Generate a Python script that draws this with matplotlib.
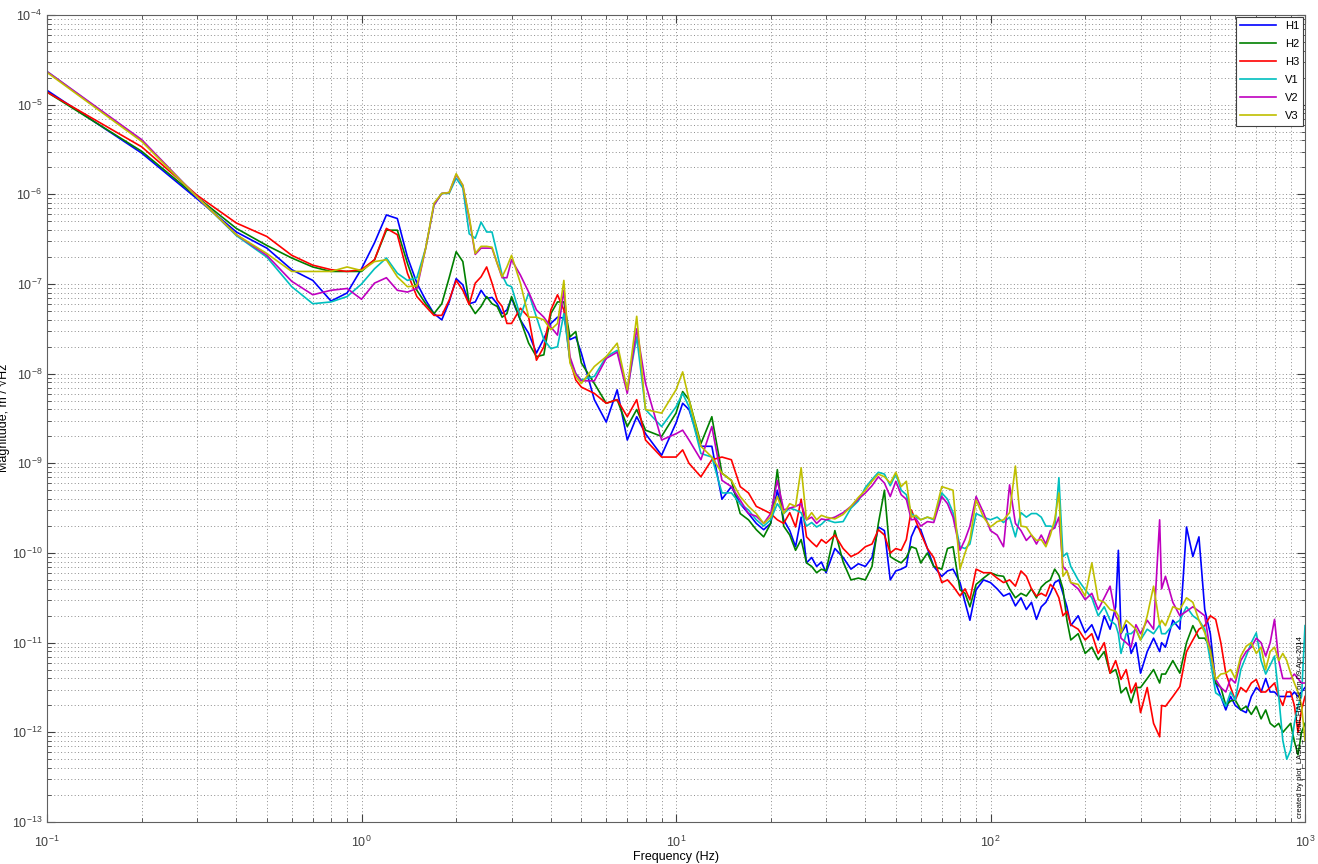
import numpy as np
import matplotlib
matplotlib.use("Agg")
import matplotlib.pyplot as plt

# frequency points (Hz)
freq = [0.1, 0.2, 0.3, 0.4, 0.5, 0.6, 0.7, 0.8, 0.9, 1.0,
        1.1, 1.2, 1.3, 1.4, 1.5, 1.6, 1.7, 1.8, 1.9, 2.0,
        2.1, 2.2, 2.3, 2.4, 2.5, 2.6, 2.7, 2.8, 2.9, 3.0,
        3.2, 3.4, 3.6, 3.8, 4.0, 4.2, 4.4, 4.6, 4.8, 5.0,
        5.5, 6.0, 6.5, 7.0, 7.5, 8.0, 9.0, 10, 10.5, 11,
        12, 13, 14, 15, 16, 17, 18, 19, 20,
        21, 22, 23, 24, 25, 26, 27, 28, 29, 30,
        32, 34, 36, 38, 40, 42, 44, 46, 48, 50,
        52, 54, 56, 58, 60, 63, 66, 70, 73, 76,
        80, 83, 86, 90, 95, 100, 105, 110, 115, 120,
        125, 130, 135, 140, 145, 150, 155, 160, 165, 170,
        175, 180, 190, 200, 210, 220, 230, 240, 250, 255,
        260, 270, 280, 290, 300, 315, 330, 345, 350, 360,
        380, 400, 420, 440, 460, 480, 500, 520, 540, 560,
        580, 600, 625, 650, 675, 700, 725, 750, 775, 800,
        825, 850, 875, 900, 925, 950, 975, 1000]

# log10 of the magnitude (m/rtHz) for each channel
h1 = [-4.84, -5.54, -6.05, -6.42, -6.60, -6.84, -6.96, -7.19, -7.10, -6.83,
      -6.54, -6.23, -6.27, -6.70, -6.99, -7.18, -7.33, -7.40, -7.20, -6.94,
      -7.01, -7.22, -7.20, -7.07, -7.16, -7.15, -7.22, -7.33, -7.29, -7.16,
      -7.40, -7.55, -7.77, -7.61, -7.44, -7.37, -7.38, -7.62, -7.59, -7.77,
      -8.29, -8.54, -8.18, -8.74, -8.48, -8.67, -8.91, -8.55, -8.33, -8.40,
      -8.81, -8.81, -9.40, -9.26, -9.45, -9.56, -9.67, -9.74, -9.67,
      -9.30, -9.63, -9.75, -9.93, -9.60, -10.11, -10.05, -10.15, -10.10, -10.22,
      -9.95, -10.05, -10.18, -10.12, -10.15, -10.05, -9.71, -9.75, -10.30, -10.20,
      -10.18, -10.15, -9.82, -9.70, -9.74, -9.95, -10.15, -10.26, -10.20, -10.18,
      -10.33, -10.55, -10.75, -10.41, -10.30, -10.33, -10.40, -10.48, -10.45, -10.59,
      -10.50, -10.63, -10.55, -10.74, -10.60, -10.55, -10.45, -10.33, -10.30, -10.45,
      -10.60, -10.81, -10.70, -10.89, -10.80, -10.97, -10.70, -10.85, -10.60, -9.97,
      -10.90, -10.80, -11.12, -11.00, -11.34, -11.10, -10.95, -11.10, -11.00, -11.05,
      -10.75, -10.85, -9.71, -10.04, -9.82, -10.63, -10.90, -11.45, -11.60, -11.75,
      -11.60, -11.70, -11.75, -11.78, -11.60, -11.50, -11.55, -11.40, -11.55, -11.55,
      -11.60, -11.60, -11.60, -11.60, -11.55, -11.60, -11.55, -11.50]
h2 = [-4.86, -5.52, -6.03, -6.38, -6.57, -6.71, -6.81, -6.86, -6.86, -6.86,
      -6.73, -6.40, -6.40, -6.77, -7.07, -7.22, -7.33, -7.22, -6.93, -6.64,
      -6.75, -7.22, -7.33, -7.25, -7.14, -7.22, -7.25, -7.37, -7.33, -7.14,
      -7.40, -7.66, -7.81, -7.79, -7.33, -7.20, -7.20, -7.59, -7.53, -7.88,
      -8.11, -8.33, -8.29, -8.59, -8.40, -8.63, -8.70, -8.44, -8.20, -8.29,
      -8.78, -8.48, -9.11, -9.19, -9.56, -9.63, -9.74, -9.82, -9.67,
      -9.07, -9.70, -9.80, -9.97, -9.85, -10.11, -10.15, -10.22, -10.18, -10.20,
      -9.75, -10.10, -10.30, -10.28, -10.30, -10.15, -9.67, -9.30, -10.04, -10.08,
      -10.11, -10.05, -9.93, -9.95, -10.11, -10.00, -10.15, -10.18, -9.95, -9.93,
      -10.41, -10.45, -10.60, -10.35, -10.28, -10.22, -10.25, -10.26, -10.40, -10.50,
      -10.45, -10.48, -10.40, -10.50, -10.38, -10.33, -10.30, -10.18, -10.25, -10.40,
      -10.75, -10.97, -10.90, -11.12, -11.05, -11.19, -11.10, -11.34, -11.30, -11.40,
      -11.56, -11.50, -11.67, -11.50, -11.50, -11.40, -11.30, -11.45, -11.35, -11.35,
      -11.20, -11.34, -11.00, -10.81, -10.95, -10.95, -11.05, -11.45, -11.50, -11.70,
      -11.65, -11.64, -11.75, -11.71, -11.80, -11.71, -11.85, -11.75, -11.90, -11.94,
      -11.90, -12.00, -11.95, -11.90, -12.10, -12.25, -12.00, -11.90]
h3 = [-4.86, -5.47, -6.01, -6.32, -6.47, -6.68, -6.79, -6.84, -6.86, -6.84,
      -6.73, -6.38, -6.45, -6.88, -7.14, -7.25, -7.35, -7.35, -7.18, -6.96,
      -7.07, -7.23, -6.99, -6.92, -6.81, -6.99, -7.18, -7.25, -7.44, -7.44,
      -7.27, -7.37, -7.85, -7.70, -7.29, -7.12, -7.29, -7.85, -8.07, -8.15,
      -8.22, -8.33, -8.29, -8.48, -8.29, -8.74, -8.93, -8.93, -8.85, -9.00,
      -9.15, -8.96, -8.93, -8.96, -9.26, -9.33, -9.48, -9.52, -9.56,
      -9.63, -9.67, -9.55, -9.71, -9.40, -9.82, -9.88, -9.93, -9.85, -9.89,
      -9.80, -9.95, -10.04, -10.00, -9.93, -9.90, -9.74, -9.80, -10.00, -9.95,
      -9.97, -9.85, -9.52, -9.65, -9.78, -9.95, -10.05, -10.33, -10.30, -10.37,
      -10.48, -10.40, -10.52, -10.18, -10.22, -10.22, -10.28, -10.33, -10.30, -10.37,
      -10.20, -10.26, -10.40, -10.48, -10.45, -10.48, -10.35, -10.40, -10.50, -10.70,
      -10.65, -10.80, -10.85, -10.97, -10.90, -11.12, -11.00, -11.34, -11.20, -11.30,
      -11.41, -11.30, -11.56, -11.45, -11.78, -11.50, -11.90, -12.05, -11.70, -11.71,
      -11.60, -11.49, -11.10, -10.97, -10.85, -10.81, -10.70, -10.74, -11.00, -11.34,
      -11.50, -11.64, -11.50, -11.55, -11.45, -11.41, -11.55, -11.55, -11.50, -11.45,
      -11.60, -11.70, -11.55, -11.55, -11.70, -12.00, -11.75, -11.60]
v1 = [-4.63, -5.40, -6.03, -6.46, -6.70, -7.03, -7.22, -7.20, -7.14, -7.00,
      -6.83, -6.71, -6.88, -6.96, -6.93, -6.60, -6.12, -5.99, -5.99, -5.82,
      -5.93, -6.44, -6.49, -6.31, -6.42, -6.42, -6.66, -6.90, -7.01, -7.03,
      -7.36, -7.10, -7.37, -7.62, -7.72, -7.70, -7.33, -7.85, -8.00, -8.07,
      -8.03, -7.81, -7.74, -8.18, -7.59, -8.40, -8.59, -8.37, -8.22, -8.37,
      -8.89, -8.93, -9.33, -9.33, -9.45, -9.52, -9.63, -9.70, -9.63,
      -9.45, -9.56, -9.50, -9.52, -9.55, -9.70, -9.66, -9.71, -9.68, -9.63,
      -9.66, -9.65, -9.50, -9.42, -9.27, -9.18, -9.10, -9.12, -9.25, -9.12,
      -9.30, -9.35, -9.56, -9.60, -9.63, -9.60, -9.63, -9.33, -9.40, -9.55,
      -9.93, -9.95, -9.90, -9.56, -9.60, -9.63, -9.60, -9.66, -9.60, -9.82,
      -9.55, -9.60, -9.56, -9.56, -9.60, -9.70, -9.70, -9.72, -9.16, -10.04,
      -10.00, -10.15, -10.30, -10.41, -10.50, -10.70, -10.60, -10.75, -10.80, -10.90,
      -11.12, -10.90, -10.90, -10.85, -10.97, -10.85, -10.90, -10.80, -10.90, -10.90,
      -10.80, -10.75, -10.60, -10.70, -10.75, -10.85, -11.20, -11.56, -11.60, -11.71,
      -11.55, -11.64, -11.30, -11.15, -11.00, -10.89, -11.20, -11.35, -11.25, -11.15,
      -11.60, -12.09, -12.30, -12.20, -11.90, -11.70, -11.60, -10.81]
v2 = [-4.63, -5.39, -6.03, -6.45, -6.68, -6.97, -7.12, -7.07, -7.05, -7.17,
      -6.99, -6.93, -7.07, -7.09, -7.05, -6.60, -6.12, -5.99, -5.98, -5.78,
      -5.90, -6.27, -6.67, -6.60, -6.60, -6.60, -6.77, -6.93, -6.93, -6.73,
      -6.90, -7.09, -7.29, -7.37, -7.48, -7.57, -7.07, -7.81, -8.00, -8.08,
      -8.08, -7.83, -7.76, -8.22, -7.50, -8.11, -8.74, -8.67, -8.63, -8.74,
      -8.96, -8.59, -9.19, -9.26, -9.41, -9.56, -9.59, -9.67, -9.56,
      -9.19, -9.52, -9.50, -9.48, -9.45, -9.63, -9.60, -9.67, -9.62, -9.63,
      -9.60, -9.55, -9.48, -9.40, -9.33, -9.25, -9.15, -9.22, -9.37, -9.20,
      -9.35, -9.40, -9.63, -9.62, -9.70, -9.65, -9.66, -9.37, -9.45, -9.60,
      -9.97, -9.85, -9.70, -9.37, -9.55, -9.75, -9.80, -9.93, -9.24, -9.67,
      -9.75, -9.86, -9.80, -9.90, -9.80, -9.90, -9.75, -9.72, -9.60, -10.15,
      -10.20, -10.33, -10.40, -10.52, -10.45, -10.63, -10.50, -10.37, -10.70, -10.75,
      -10.95, -11.00, -11.05, -10.80, -10.90, -10.75, -10.85, -9.63, -10.40, -10.26,
      -10.55, -10.70, -10.65, -10.60, -10.65, -10.70, -11.10, -11.41, -11.50, -11.55,
      -11.40, -11.45, -11.20, -11.10, -11.05, -10.95, -11.00, -11.15, -11.00, -10.74,
      -11.20, -11.40, -11.40, -11.40, -11.35, -11.40, -11.45, -11.45]
v3 = [-4.64, -5.41, -6.03, -6.45, -6.66, -6.86, -6.86, -6.86, -6.81, -6.85,
      -6.75, -6.73, -6.92, -7.03, -7.02, -6.60, -6.10, -5.99, -5.98, -5.77,
      -5.90, -6.25, -6.66, -6.58, -6.58, -6.59, -6.77, -6.92, -6.81, -6.68,
      -6.99, -7.37, -7.37, -7.40, -7.51, -7.44, -6.96, -7.88, -8.03, -8.11,
      -7.92, -7.81, -7.66, -8.18, -7.36, -8.40, -8.44, -8.18, -7.98, -8.29,
      -8.81, -8.93, -9.11, -9.19, -9.37, -9.48, -9.56, -9.67, -9.60,
      -9.37, -9.56, -9.45, -9.48, -9.05, -9.63, -9.55, -9.63, -9.58, -9.60,
      -9.62, -9.57, -9.48, -9.38, -9.30, -9.20, -9.12, -9.15, -9.22, -9.10,
      -9.26, -9.20, -9.60, -9.58, -9.63, -9.60, -9.62, -9.26, -9.28, -9.30,
      -10.18, -10.00, -9.85, -9.41, -9.60, -9.71, -9.65, -9.63, -9.55, -9.03,
      -9.70, -9.71, -9.80, -9.86, -9.85, -9.93, -9.80, -9.63, -9.33, -10.26,
      -10.20, -10.33, -10.35, -10.48, -10.11, -10.52, -10.55, -10.63, -10.65, -10.70,
      -10.89, -10.75, -10.80, -10.85, -10.97, -10.70, -10.37, -10.80, -10.75, -10.81,
      -10.60, -10.63, -10.50, -10.55, -10.75, -10.89, -11.10, -11.41, -11.35, -11.34,
      -11.30, -11.40, -11.15, -11.04, -11.00, -11.12, -11.05, -11.30, -11.10, -11.05,
      -11.20, -11.12, -11.20, -11.34, -11.45, -11.55, -11.70, -12.09]

labels = ["H1", "H2", "H3", "V1", "V2", "V3"]
series = [h1, h2, h3, v1, v2, v3]
colors = ["#0000ff", "#008000", "#ff0000", "#00bfbf", "#bf00bf", "#bfbf00"]

plt.rcParams["font.family"] = ["Liberation Sans", "DejaVu Sans"]
plt.rcParams["mathtext.default"] = "regular"

fig = plt.figure(figsize=(13.18, 8.64), dpi=100)
ax = fig.add_axes([47 / 1318, 1 - 822 / 864, (1305 - 47) / 1318, (822 - 15) / 864])

for lab, vals, col in zip(labels, series, colors):
    ax.loglog(freq, 10 ** np.array(vals), color=col, lw=1.2, label=lab)

ax.set_xlim(0.1, 1000)
ax.set_ylim(1e-13, 1e-4)
ax.grid(True, which="both", linestyle=(0, (1, 2.5)), color="#8c8c8c", linewidth=0.7)
ax.tick_params(which="both", direction="in", top=True, right=True,
               labelsize=9, colors="#404040")
ax.tick_params(which="major", length=6)
ax.tick_params(which="minor", length=3)
ax.tick_params(axis="x", which="major", pad=9)
ax.xaxis.set_major_locator(matplotlib.ticker.LogLocator(base=10, numticks=20))
ax.yaxis.set_major_locator(matplotlib.ticker.LogLocator(base=10, numticks=20))
ax.xaxis.set_minor_locator(matplotlib.ticker.LogLocator(base=10, subs=np.arange(2, 10), numticks=20))
ax.yaxis.set_minor_locator(matplotlib.ticker.LogLocator(base=10, subs=np.arange(2, 10), numticks=20))
ax.yaxis.set_minor_formatter(matplotlib.ticker.NullFormatter())
ax.xaxis.set_minor_formatter(matplotlib.ticker.NullFormatter())
for sp in ax.spines.values():
    sp.set_color("#606060")

ax.set_xlabel("Frequency (Hz)", fontsize=9, labelpad=1)
fig.text(3 / 1318, 1 - 418 / 864, "Magnitude, m / \u221aHz", rotation=90,
         ha="center", va="center", fontsize=9)
fig.text(676 / 1318, 1 - 2 / 864, "GS13", ha="center", va="bottom", fontsize=11)
ax.text(0.9965, 0.005, "created by plot_LASD_LocalCHALISI on 09-Apr-2014",
        transform=ax.transAxes, rotation=90, ha="center", va="bottom", fontsize=5.5)

leg = ax.legend(loc="upper right", fontsize=8, fancybox=False, framealpha=1,
                edgecolor="#404040", handlelength=3.2, labelspacing=0.72,
                borderaxespad=0.15)
leg.get_frame().set_linewidth(0.8)

fig.savefig("out.png", dpi=100)
